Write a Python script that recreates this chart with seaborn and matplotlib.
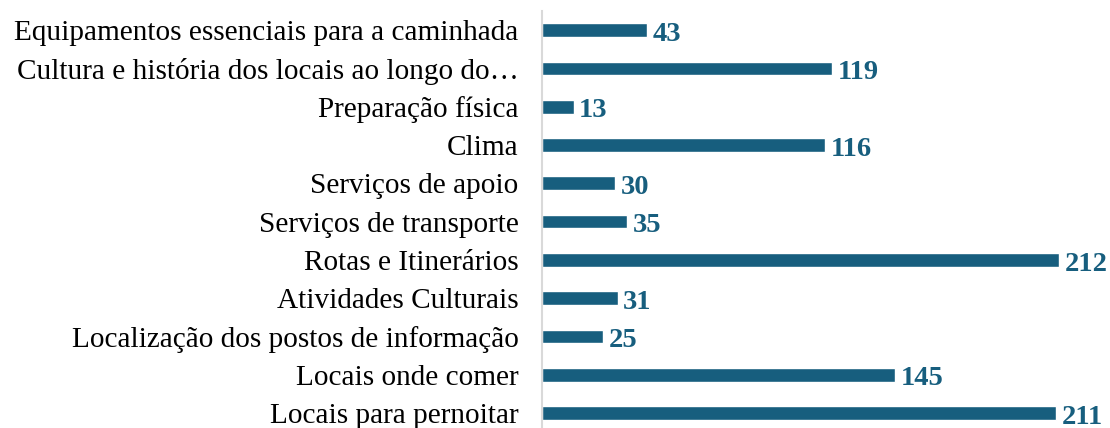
import matplotlib
matplotlib.use("Agg")
import matplotlib.pyplot as plt
import seaborn as sns
import pandas as pd

categorias = [
    "Equipamentos essenciais para a caminhada",
    "Cultura e história dos locais ao longo do…",
    "Preparação física",
    "Clima",
    "Serviços de apoio",
    "Serviços de transporte",
    "Rotas e Itinerários",
    "Atividades Culturais",
    "Localização dos postos de informação",
    "Locais onde comer",
    "Locais para pernoitar",
]
valores = [43, 119, 13, 116, 30, 35, 212, 31, 25, 145, 211]

COR = "#175E7E"

df = pd.DataFrame({"categoria": categorias, "valor": valores})

sns.set_style("white")
plt.rcParams["font.family"] = ["Liberation Serif", "DejaVu Serif"]

fig = plt.figure(figsize=(11.1, 4.28), dpi=100)
ax = fig.add_axes([542 / 1110, 0, 1 - 542 / 1110, 1 - 11 / 428])

sns.barplot(data=df, x="valor", y="categoria", color=COR, width=0.36,
            saturation=1, ax=ax)

# valores ao fim de cada barra
for i, v in enumerate(valores):
    ax.annotate(str(v), (v, i), xytext=(4, -3), textcoords="offset points",
                ha="left", va="center", fontsize=20.5, fontweight="bold",
                color=COR, clip_on=False)

ax.set_xlim(0, 233)
ax.set_ylim(10.39, -0.5)
ax.set_xlabel("")
ax.set_ylabel("")
ax.set_xticks([])
for s in ["top", "right", "bottom"]:
    ax.spines[s].set_visible(False)
ax.spines["left"].set_color("#D9D9D9")
ax.spines["left"].set_linewidth(1.5)
ax.tick_params(axis="y", length=0, pad=17, labelsize=21.1, labelcolor="black")

fig.savefig("out.png", dpi=100)
plt.close(fig)
